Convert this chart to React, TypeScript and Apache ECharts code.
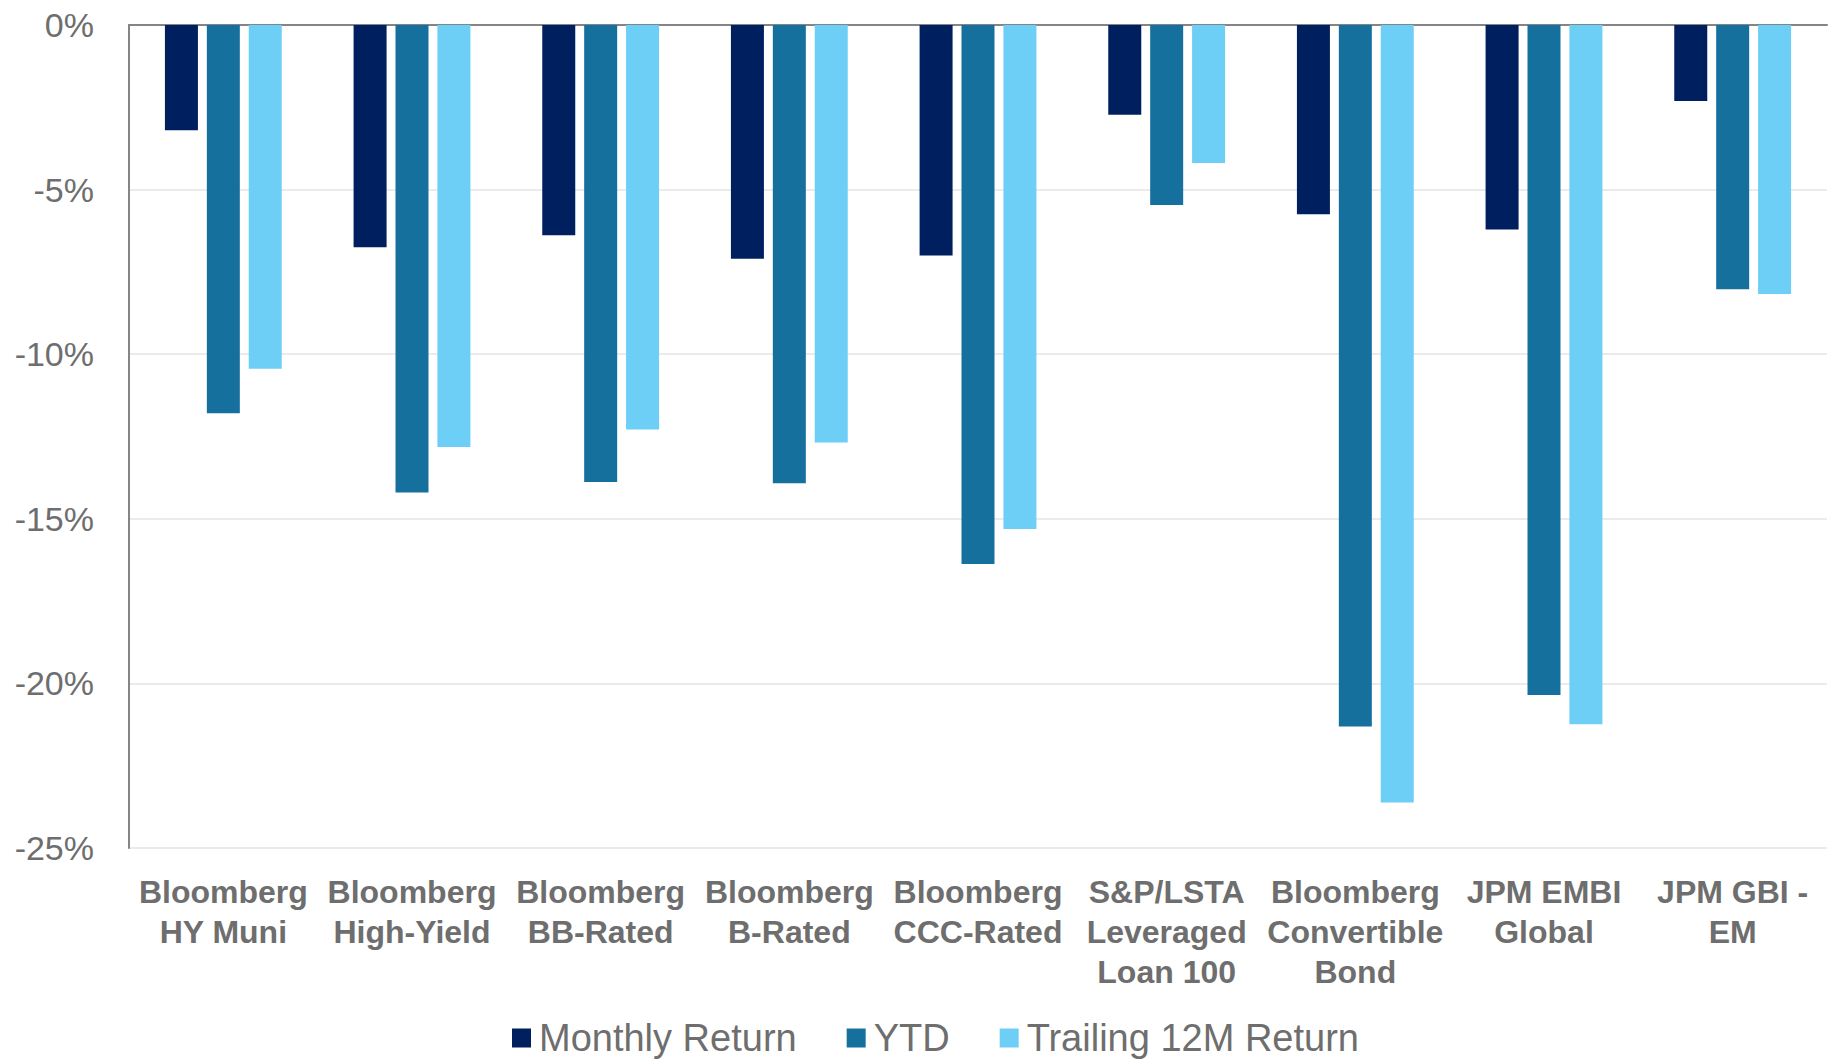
import React, { useEffect, useRef } from "react";
import * as echarts from "echarts";

const categories = [
  "Bloomberg\nHY Muni",
  "Bloomberg\nHigh-Yield",
  "Bloomberg\nBB-Rated",
  "Bloomberg\nB-Rated",
  "Bloomberg\nCCC-Rated",
  "S&P/LSTA\nLeveraged\nLoan 100",
  "Bloomberg\nConvertible\nBond",
  "JPM EMBI\nGlobal",
  "JPM GBI -\nEM",
];

const monthlyReturn = [-3.2, -6.75, -6.39, -7.1, -7.0, -2.73, -5.75, -6.21, -2.31];
const ytd = [-11.79, -14.2, -13.88, -13.92, -16.37, -5.47, -21.31, -20.35, -8.03];
const trailing12M = [-10.44, -12.82, -12.29, -12.68, -15.31, -4.19, -23.62, -21.24, -8.17];

const seriesNames = ["Monthly Return", "YTD", "Trailing 12M Return"];
const colors = ["#001F5F", "#16709D", "#6DCFF6"];

export default function App() {
  const ref = useRef<HTMLDivElement>(null);

  useEffect(() => {
    if (!ref.current) return;
    const chart = echarts.init(ref.current, undefined, { renderer: "svg" });
    const font = "'Liberation Sans', Arial, sans-serif";
    const grey = "#6E6E6E";
    const dataSets = [monthlyReturn, ytd, trailing12M];
    chart.setOption({
      animation: false,
      backgroundColor: "#ffffff",
      textStyle: { fontFamily: font },
      grid: { left: 129, right: 7, top: 25, bottom: 211, containLabel: false },
      legend: {
        top: 1014,
        left: 507,
        itemWidth: 19,
        itemHeight: 19,
        itemGap: 50,
        icon: "rect",
        textStyle: { fontSize: 38, color: grey, fontFamily: font, padding: [0, 0, 0, 3] },
        data: seriesNames,
      },
      xAxis: [
        {
          type: "category",
          data: categories,
          position: "bottom",
          axisLine: { show: false },
          axisTick: { show: false },
          axisLabel: {
            interval: 0,
            margin: 24,
            fontSize: 32,
            fontWeight: "bold",
            lineHeight: 40,
            color: grey,
            fontFamily: font,
          },
        },
        {
          type: "category",
          data: categories,
          position: "top",
          axisLine: { show: true, onZero: false, lineStyle: { color: "#858585", width: 2 } },
          axisTick: { show: false },
          axisLabel: { show: false },
        },
      ],
      yAxis: {
        type: "value",
        min: -25,
        max: 0,
        interval: 5,
        axisLine: { show: true, onZero: false, lineStyle: { color: "#858585", width: 2 } },
        axisTick: { show: false },
        axisLabel: {
          formatter: "{value}%",
          fontSize: 34,
          color: grey,
          margin: 35,
          fontFamily: font,
        },
        splitLine: { show: true, lineStyle: { color: "#EBEBEB", width: 2 } },
      },
      series: seriesNames.map((name, i) => ({
        name,
        type: "bar",
        xAxisIndex: 0,
        data: dataSets[i],
        barWidth: 33,
        barGap: "27%",
        itemStyle: { color: colors[i] },
      })),
    });
    return () => chart.dispose();
  }, []);

  return (
    <div
      ref={ref}
      style={{ position: "fixed", left: 0, top: 0, width: 1834, height: 1059, background: "#fff" }}
    />
  );
}
